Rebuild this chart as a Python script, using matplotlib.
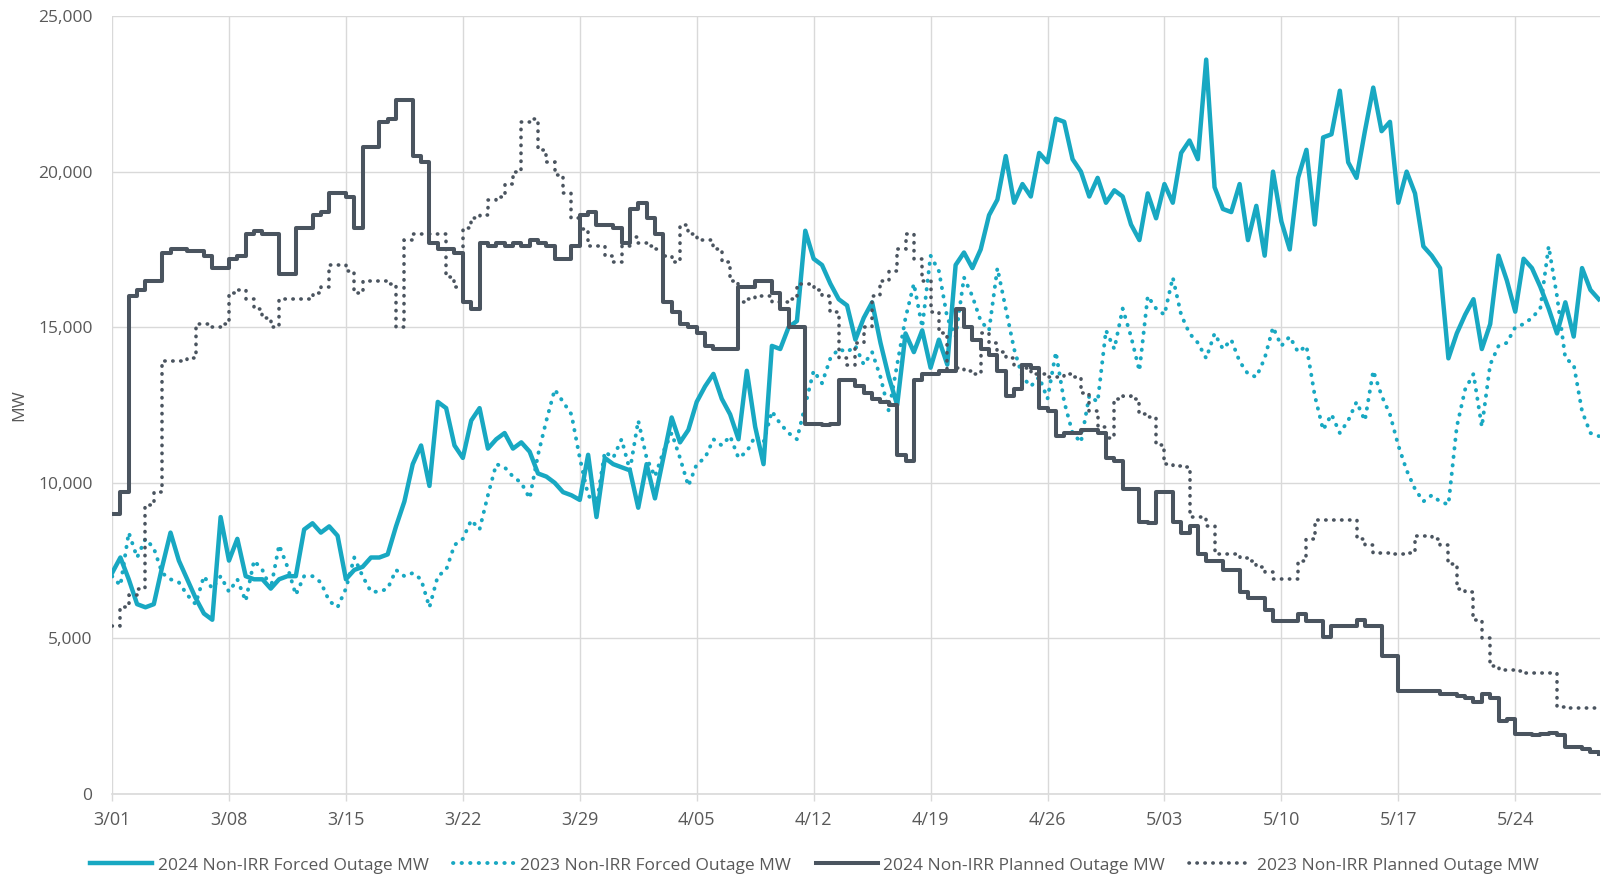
import numpy as np
import matplotlib
matplotlib.use('Agg')
import matplotlib.pyplot as plt

plt.rcParams['font.family'] = ['Open Sans', 'DejaVu Sans']

# half-day samples from 3/01 (day 0) through 5/30 (day 89), values in MW
days = np.arange(0, 89.01, 0.5)

forced_2024 = np.array([
    7.1, 7.6, 6.9, 6.1, 6.0, 6.1, 7.3, 8.4, 7.5, 6.9,
    6.3, 5.8, 5.6, 8.9, 7.5, 8.2, 7.0, 6.9, 6.9, 6.6,
    6.9, 7.0, 7.0, 8.5, 8.7, 8.4, 8.6, 8.3, 6.9, 7.2,
    7.3, 7.6, 7.6, 7.7, 8.6, 9.4, 10.6, 11.2, 9.9, 12.6,
    12.4, 11.2, 10.8, 12.0, 12.4, 11.1, 11.4, 11.6, 11.1, 11.3,
    11.0, 10.3, 10.2, 10.0, 9.7, 9.6, 9.45, 10.9, 8.9, 10.8,
    10.6, 10.5, 10.4, 9.2, 10.6, 9.5, 10.8, 12.1, 11.3, 11.7,
    12.6, 13.1, 13.5, 12.7, 12.2, 11.4, 13.6, 11.8, 10.6, 14.4,
    14.3, 15.0, 15.2, 18.1, 17.2, 17.0, 16.4, 15.9, 15.7, 14.6,
    15.3, 15.8, 14.5, 13.4, 12.5, 14.8, 14.2, 14.9, 13.7, 14.6,
    13.8, 17.0, 17.4, 16.9, 17.5, 18.6, 19.1, 20.5, 19.0, 19.6,
    19.2, 20.6, 20.3, 21.7, 21.6, 20.4, 20.0, 19.2, 19.8, 19.0,
    19.4, 19.2, 18.3, 17.8, 19.3, 18.5, 19.6, 19.0, 20.6, 21.0,
    20.4, 23.6, 19.5, 18.8, 18.7, 19.6, 17.8, 18.9, 17.3, 20.0,
    18.4, 17.5, 19.8, 20.7, 18.3, 21.1, 21.2, 22.6, 20.3, 19.8,
    21.3, 22.7, 21.3, 21.6, 19.0, 20.0, 19.3, 17.6, 17.3, 16.9,
    14.0, 14.8, 15.4, 15.9, 14.3, 15.1, 17.3, 16.5, 15.5, 17.2,
    16.9, 16.3, 15.6, 14.8, 15.8, 14.7, 16.9, 16.2, 15.9]) * 1000

forced_2023 = np.array([
    7.0, 6.7, 8.4, 7.6, 8.2, 7.9, 7.1, 6.9, 6.8, 6.4,
    6.1, 7.0, 6.6, 7.0, 6.5, 6.9, 6.2, 7.5, 7.2, 6.6,
    8.0, 7.3, 6.4, 7.0, 7.0, 6.8, 6.2, 6.0, 6.6, 7.6,
    7.0, 6.5, 6.5, 6.6, 7.2, 7.0, 7.1, 6.9, 6.0, 7.0,
    7.2, 8.0, 8.2, 8.8, 8.5, 9.6, 10.6, 10.5, 10.2, 10.0,
    9.5, 10.9, 12.0, 13.0, 12.6, 12.2, 10.8, 9.6, 9.3, 11.0,
    10.8, 11.4, 10.4, 12.0, 10.8, 10.2, 11.0, 11.6, 10.8, 9.9,
    10.6, 10.8, 11.4, 11.2, 11.5, 10.8, 11.0, 11.5, 11.3, 12.3,
    11.9, 11.6, 11.4, 12.5, 13.6, 13.2, 14.0, 14.3, 14.2, 14.4,
    13.8, 14.2, 13.4, 12.3, 13.8, 15.3, 16.4, 15.0, 17.3, 16.8,
    15.3, 14.7, 16.6, 16.0, 15.2, 14.9, 16.9, 15.6, 14.3, 13.4,
    13.1, 13.4, 12.7, 14.2, 12.6, 11.6, 11.3, 12.8, 12.6, 14.9,
    14.3, 15.6, 14.7, 13.6, 16.0, 15.6, 15.4, 16.6, 15.4, 14.8,
    14.5, 14.0, 14.8, 14.3, 14.6, 13.9, 13.5, 13.4, 14.0, 15.0,
    14.4, 14.7, 14.2, 14.4, 12.8, 11.7, 12.2, 11.6, 12.0, 12.6,
    12.0, 13.6, 12.8, 12.2, 11.2, 10.4, 9.8, 9.4, 9.6, 9.4,
    9.3, 11.8, 13.0, 13.5, 11.8, 13.8, 14.4, 14.5, 15.0, 15.1,
    15.3, 15.6, 17.6, 16.0, 14.0, 13.8, 12.3, 11.6, 11.5]) * 1000

planned_2024 = np.array([
    9.0, 9.7, 16.0, 16.2, 16.5, 16.5, 17.4, 17.5, 17.5, 17.45,
    17.45, 17.3, 16.9, 16.9, 17.2, 17.3, 18.0, 18.1, 18.0, 18.0,
    16.7, 16.7, 18.2, 18.2, 18.6, 18.7, 19.3, 19.3, 19.2, 18.2,
    20.8, 20.8, 21.6, 21.7, 22.3, 22.3, 20.5, 20.3, 17.7, 17.5,
    17.5, 17.4, 15.8, 15.6, 17.7, 17.6, 17.7, 17.6, 17.7, 17.6,
    17.8, 17.7, 17.6, 17.2, 17.2, 17.6, 18.6, 18.7, 18.3, 18.3,
    18.2, 17.7, 18.8, 19.0, 18.5, 18.0, 15.8, 15.5, 15.1, 15.0,
    14.8, 14.4, 14.3, 14.3, 14.3, 16.3, 16.3, 16.5, 16.5, 16.1,
    15.6, 15.0, 15.0, 11.9, 11.9, 11.85, 11.9, 13.3, 13.3, 13.1,
    12.9, 12.7, 12.6, 12.5, 10.9, 10.7, 13.3, 13.5, 13.5, 13.6,
    13.6, 15.6, 15.0, 14.6, 14.3, 14.1, 13.6, 12.8, 13.0, 13.8,
    13.7, 12.4, 12.3, 11.5, 11.6, 11.6, 11.7, 11.7, 11.6, 10.8,
    10.7, 9.8, 9.8, 8.75, 8.7, 9.7, 9.7, 8.75, 8.4, 8.6,
    7.7, 7.5, 7.5, 7.2, 7.2, 6.5, 6.3, 6.3, 5.9, 5.55,
    5.55, 5.55, 5.8, 5.55, 5.55, 5.05, 5.4, 5.4, 5.4, 5.6,
    5.4, 5.4, 4.45, 4.45, 3.3, 3.3, 3.3, 3.3, 3.3, 3.2,
    3.2, 3.15, 3.1, 2.95, 3.2, 3.1, 2.35, 2.4, 1.93, 1.93,
    1.9, 1.93, 1.95, 1.9, 1.5, 1.5, 1.45, 1.35, 1.3]) * 1000

planned_2023 = np.array([
    5.4, 6.0, 6.4, 6.6, 9.3, 9.7, 13.9, 13.9, 13.9, 14.0,
    15.1, 15.1, 15.0, 15.1, 16.1, 16.2, 15.9, 15.6, 15.3, 15.0,
    15.9, 15.9, 15.9, 15.9, 16.1, 16.3, 17.0, 17.0, 16.8, 16.1,
    16.5, 16.5, 16.5, 16.4, 15.0, 17.8, 18.0, 18.0, 18.0, 18.0,
    16.6, 16.3, 18.2, 18.5, 18.6, 19.1, 19.2, 19.6, 20.0, 21.6,
    21.7, 20.7, 20.3, 19.9, 19.3, 18.5, 18.15, 17.6, 17.6, 17.3,
    17.1, 17.6, 17.9, 17.7, 17.6, 17.5, 17.3, 17.1, 18.3, 18.0,
    17.8, 17.8, 17.5, 17.1, 16.5, 15.8, 15.9, 16.0, 16.0, 15.8,
    15.8, 15.9, 16.4, 16.4, 16.2, 16.0, 15.5, 14.0, 13.8, 14.5,
    15.0, 16.0, 16.5, 16.8, 17.5, 18.0, 17.2, 16.5, 15.5, 14.8,
    13.6, 13.7, 13.6, 13.5, 14.8, 14.5, 14.2, 14.0, 13.8, 13.7,
    13.5, 13.5, 13.4, 13.4, 13.5, 13.4, 12.9, 12.3, 11.8, 11.45,
    12.7, 12.8, 12.7, 12.2, 12.1, 11.2, 10.6, 10.55, 10.5, 8.9,
    8.9, 8.6, 7.7, 7.7, 7.7, 7.6, 7.5, 7.3, 7.15, 6.9,
    6.9, 6.9, 7.5, 8.2, 8.8, 8.8, 8.8, 8.8, 8.8, 8.2,
    8.0, 7.75, 7.75, 7.7, 7.7, 7.75, 8.3, 8.3, 8.2, 8.0,
    7.4, 6.6, 6.5, 5.6, 5.0, 4.1, 4.0, 4.0, 3.95, 3.9,
    3.9, 3.9, 3.9, 2.8, 2.75, 2.75, 2.75, 2.75, 2.75]) * 1000

tick_days = [0, 7, 14, 21, 28, 35, 42, 49, 56, 63, 70, 77, 84]
tick_labels = ['3/01', '3/08', '3/15', '3/22', '3/29', '4/05', '4/12',
               '4/19', '4/26', '5/03', '5/10', '5/17', '5/24']

teal = '#18a8c2'
slate = '#4a545f'
grid_c = '#d9d9d9'
text_c = '#595959'

fig = plt.figure(figsize=(16.03, 8.76), dpi=100)
ax = fig.add_axes([0.0699, 0.0936, 0.9285, 0.8881])

dots = (0, (0.1, 2.1))
ax.plot(days, forced_2024, color=teal, lw=3.2, label='2024 Non-IRR Forced Outage MW', zorder=3)
ax.plot(days, forced_2023, color=teal, lw=2.8, ls=dots, dash_capstyle='round',
        label='2023 Non-IRR Forced Outage MW', zorder=4)
ax.plot(days, planned_2024, color=slate, lw=2.9, drawstyle='steps-post',
        label='2024 Non-IRR Planned Outage MW', zorder=5)
ax.plot(days, planned_2023, color=slate, lw=2.6, ls=dots, dash_capstyle='round',
        drawstyle='steps-post', label='2023 Non-IRR Planned Outage MW', zorder=6)

ax.set_xlim(0, 89.1)
ax.set_ylim(0, 25000)
ax.set_xticks(tick_days)
ax.set_xticklabels(tick_labels)
ax.set_yticks(np.arange(0, 25001, 5000))
ax.yaxis.set_major_formatter(matplotlib.ticker.FuncFormatter(lambda v, p: f'{int(v):,}'))

ax.grid(True, color=grid_c, lw=1.0)
ax.set_axisbelow(True)
for s in ['top', 'right', 'left']:
    ax.spines[s].set_visible(False)
ax.spines['bottom'].set_color(grid_c)
ax.spines['bottom'].set_linewidth(1.2)
ax.tick_params(axis='x', colors=text_c, labelsize=13, length=5, width=1, color=grid_c, pad=7)
ax.tick_params(axis='y', colors=text_c, labelsize=12.5, length=0, pad=14)
ax.set_ylabel('MW', color=text_c, fontsize=12.5, labelpad=8)

leg = fig.legend(loc='lower center', bbox_to_anchor=(0.508, -0.015), ncol=4, frameon=False,
                 fontsize=12.5, handlelength=3.6, handletextpad=0.3, columnspacing=1.4)
for t in leg.get_texts():
    t.set_color(text_c)

fig.savefig('out.png', dpi=100)
